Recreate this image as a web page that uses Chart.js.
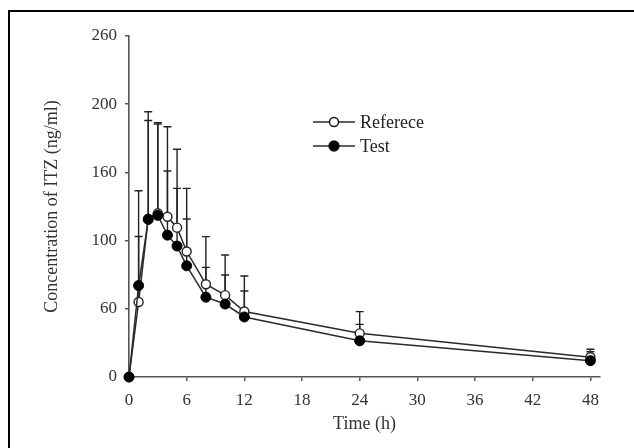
<!DOCTYPE html>
<html>
<head>
<meta charset="utf-8">
<script src="https://cdn.jsdelivr.net/npm/chart.js@4.4.1/dist/chart.umd.min.js"></script>
<style>
  html, body { margin: 0; padding: 0; background: #fff; }
  #wrap { width: 634px; height: 448px; position: relative; }
</style>
</head>
<body>
<div id="wrap"><canvas id="c" width="634" height="448"></canvas></div>
<script>
// ---- data ----
const times = [0, 1, 2, 3, 4, 5, 6, 8, 10, 12, 24, 48];
const refValues  = [0, 55, 116, 120, 117.5, 109.5, 92, 68, 60, 48, 32, 14.5];
const refSD      = [0, 48, 78.5, 66.5, 66, 57.5, 46.3, 34.9, 29.4, 26, 15.9, 5.8];
const testValues = [0, 67, 115.5, 118.5, 104, 96, 81.5, 58.5, 53.5, 44, 26.5, 12];
const testSD     = [0, 69.6, 72.5, 67, 47, 42.3, 34.3, 21.9, 21.3, 19, 12.1, 6.5];
const yTickLabels = ["0", "60", "100", "160", "200", "260"];
const xTickValues = [0, 6, 12, 18, 24, 30, 36, 42, 48];
const seriesNames = ["Referece", "Test"];
const xTitle = "Time (h)";
const yTitle = "Concentration of ITZ (ng/ml)";

const FONT = "'Liberation Serif', 'Times New Roman', serif";
const LINE = '#2a2a2a';
const AXIS = '#555';

const toPts = (vals) => times.map((t, i) => ({x: t, y: vals[i]}));

const errorBars = {
  id: 'errorBars',
  beforeDatasetsDraw(chart) {
    const {ctx, scales: {x, y}} = chart;
    const sets = [[refValues, refSD], [testValues, testSD]];
    ctx.save();
    ctx.strokeStyle = '#222';
    ctx.lineWidth = 1.4;
    sets.forEach(([vals, sds]) => {
      times.forEach((t, i) => {
        if (!sds[i]) return;
        const px = x.getPixelForValue(t);
        const p0 = y.getPixelForValue(vals[i]);
        const p1 = y.getPixelForValue(vals[i] + sds[i]);
        ctx.beginPath();
        ctx.moveTo(px, p0); ctx.lineTo(px, p1);
        ctx.moveTo(px - 4, p1); ctx.lineTo(px + 4, p1);
        ctx.stroke();
      });
    });
    ctx.restore();
  }
};

const legendAndFrame = {
  id: 'legendAndFrame',
  afterDraw(chart) {
    const {ctx} = chart;
    ctx.save();
    // frame (left and top edges)
    ctx.strokeStyle = '#000';
    ctx.lineWidth = 2;
    ctx.beginPath();
    ctx.moveTo(9, 448); ctx.lineTo(9, 11); ctx.lineTo(634, 11);
    ctx.stroke();
    // legend
    const rows = [
      {y: 122, fill: '#fff', r: 4.5, name: seriesNames[0]},
      {y: 146, fill: '#000', r: 5, name: seriesNames[1]}
    ];
    rows.forEach(row => {
      ctx.strokeStyle = LINE;
      ctx.lineWidth = 1.4;
      ctx.beginPath();
      ctx.moveTo(313, row.y); ctx.lineTo(355, row.y);
      ctx.stroke();
      ctx.beginPath();
      ctx.arc(334, row.y, row.r, 0, Math.PI * 2);
      ctx.fillStyle = row.fill;
      ctx.fill();
      ctx.strokeStyle = '#111';
      ctx.lineWidth = 1.4;
      ctx.stroke();
      ctx.fillStyle = '#222';
      ctx.font = "18px " + FONT;
      ctx.textBaseline = 'middle';
      ctx.textAlign = 'left';
      ctx.fillText(row.name, 360, row.y + 1);
    });
    ctx.restore();
  }
};

new Chart(document.getElementById('c'), {
  type: 'line',
  data: {
    datasets: [
      {
        label: seriesNames[1],
        data: toPts(testValues),
        borderColor: LINE,
        borderWidth: 1.5,
        pointRadius: 5,
        pointBackgroundColor: '#000',
        pointBorderColor: '#000',
        pointBorderWidth: 1,
        tension: 0,
        clip: false,
        order: 0
      },
      {
        label: seriesNames[0],
        data: toPts(refValues),
        borderColor: LINE,
        borderWidth: 1.5,
        pointRadius: 4.5,
        pointBackgroundColor: '#fff',
        pointBorderColor: '#222',
        pointBorderWidth: 1.4,
        tension: 0,
        clip: false,
        order: 1
      }
    ]
  },
  options: {
    responsive: false,
    animation: false,
    events: [],
    layout: { padding: { left: 0, top: 36, right: 34, bottom: 0 } },
    plugins: { legend: { display: false }, tooltip: { enabled: false } },
    scales: {
      x: {
        type: 'linear',
        min: 0, max: 49,
        afterBuildTicks(scale) { scale.ticks = xTickValues.map(v => ({value: v})); },
        afterFit(scale) { scale.height = 71; scale.paddingLeft = 0; scale.paddingRight = 0; },
        ticks: { color: '#333', font: { family: FONT, size: 17 }, padding: 9, maxRotation: 0, autoSkip: false },
        grid: { drawOnChartArea: false, drawTicks: true, tickLength: 4, color: AXIS, lineWidth: 1.5 },
        border: { color: AXIS, width: 1.6 },
        title: { display: true, text: xTitle, color: '#333', font: { family: FONT, size: 18 }, padding: { top: 0, bottom: 13 } }
      },
      y: {
        type: 'linear',
        min: 0, max: 250,
        ticks: {
          stepSize: 50,
          color: '#333',
          font: { family: FONT, size: 17 },
          padding: 8,
          callback: (v, i) => yTickLabels[i]
        },
        afterFit(scale) { scale.width = 129; scale.paddingTop = 0; scale.paddingBottom = 0; },
        grid: { drawOnChartArea: false, drawTicks: true, tickLength: 4, color: AXIS, lineWidth: 1.5 },
        border: { color: AXIS, width: 1.6 },
        title: { display: true, text: yTitle, color: '#333', font: { family: FONT, size: 18 }, padding: { top: 41, bottom: 0 } }
      }
    }
  },
  plugins: [errorBars, legendAndFrame]
});
</script>
</body>
</html>
